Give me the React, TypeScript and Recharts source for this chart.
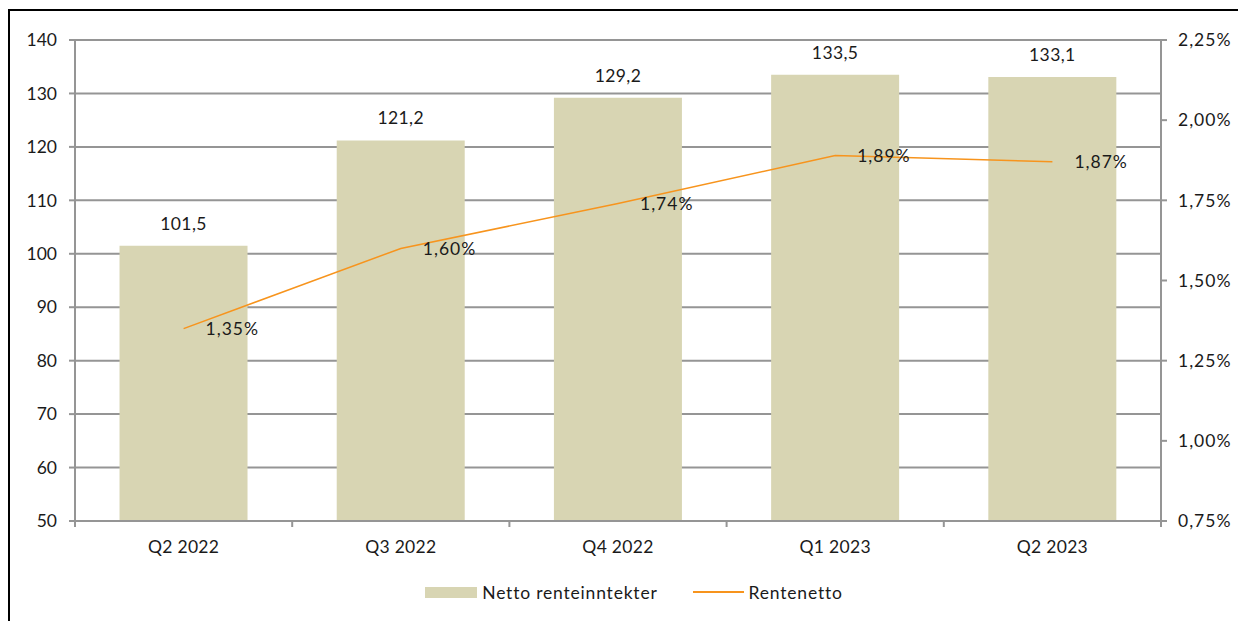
import { ComposedChart, Bar, Line, XAxis, YAxis, CartesianGrid, Legend, LabelList } from 'recharts';

const quarters = ['Q2 2022', 'Q3 2022', 'Q4 2022', 'Q1 2023', 'Q2 2023'];
const nettoRenteinntekter = [101.5, 121.2, 129.2, 133.5, 133.1];
const rentenetto = [1.35, 1.6, 1.74, 1.89, 1.87];
const leftTicks = [50, 60, 70, 80, 90, 100, 110, 120, 130, 140];
const rightTicks = [0.75, 1.0, 1.25, 1.5, 1.75, 2.0, 2.25];

const data = quarters.map((q, i) => ({
  quarter: q,
  netto: nettoRenteinntekter[i],
  rente: rentenetto[i],
}));

const FONT = 'Lato, "Open Sans", sans-serif';
const AXIS = '#959595';
const BAR = '#d8d5b3';
const ORANGE = '#f7941d';
const TEXT = '#1a1a1a';
const FS = 17.5;

const fmtNum = (v: number) => v.toFixed(1).replace('.', ',');
const fmtPct = (v: number) => v.toFixed(2).replace('.', ',') + '%';

const TICK_SIZE = 6;
const TICK_MARGIN = 14;

// category labels centred, tick marks drawn on the category boundaries
const QuarterTick = (props: any) => {
  const { x, y, payload, index, visibleTicksCount, width } = props;
  const half = width / visibleTicksCount / 2;
  const axisY = y - TICK_SIZE - TICK_MARGIN;
  return (
    <g>
      <line x1={x - half} x2={x - half} y1={axisY} y2={axisY + TICK_SIZE} stroke={AXIS} strokeWidth={2} />
      {index === visibleTicksCount - 1 && (
        <line x1={x + half} x2={x + half} y1={axisY} y2={axisY + TICK_SIZE} stroke={AXIS} strokeWidth={2} />
      )}
      <text x={x} y={y} dy="0.71em" textAnchor="middle" fill={TEXT} fontSize={FS} fontFamily={FONT} letterSpacing={0.3}>
        {payload.value}
      </text>
    </g>
  );
};

const LegendContent = () => (
  <div style={{ height: 60, display: 'flex', alignItems: 'center', justifyContent: 'center', paddingLeft: 30, paddingTop: 2, boxSizing: 'border-box', fontFamily: FONT, fontSize: FS, color: TEXT, letterSpacing: 0.8 }}>
    <span style={{ display: 'inline-block', width: 52, height: 11, background: BAR, marginRight: 5 }} />
    <span>Netto renteinntekter</span>
    <span style={{ display: 'inline-block', width: 51, height: 2, background: ORANGE, marginLeft: 35, marginRight: 5 }} />
    <span>Rentenetto</span>
  </div>
);

export default function App() {
  return (
    <div style={{ position: 'absolute', left: 0, top: 0, width: 1238, height: 621, overflow: 'hidden', background: '#fff' }}>
      <div style={{ position: 'absolute', left: 8, top: 9, width: 1400, height: 800, borderLeft: '2px solid #000', borderTop: '2px solid #000' }} />
      <div style={{ position: 'absolute', left: 0, top: 0 }}>
        <ComposedChart width={1238} height={621} data={data} margin={{ top: 40, right: 0, bottom: 0, left: 0 }} barCategoryGap="20.5%">
          <CartesianGrid yAxisId="left" vertical={false} stroke={AXIS} strokeWidth={2} />
          <XAxis
            dataKey="quarter"
            height={40}
            tickLine={false}
            tickSize={TICK_SIZE}
            tickMargin={TICK_MARGIN}
            stroke={AXIS}
            strokeWidth={2}
            tick={<QuarterTick />}
            interval={0}
          />
          <YAxis
            yAxisId="left"
            width={75}
            domain={[50, 140]}
            ticks={leftTicks}
            stroke={AXIS}
            strokeWidth={2}
            tickSize={6}
            tickMargin={12}
            tick={{ fill: TEXT, fontSize: FS, fontFamily: FONT }}
          />
          <YAxis
            yAxisId="right"
            orientation="right"
            width={77}
            domain={[0.75, 2.25]}
            ticks={rightTicks}
            tickFormatter={fmtPct}
            stroke={AXIS}
            strokeWidth={2}
            tickSize={6}
            tickMargin={11}
            tick={{ fill: TEXT, fontSize: FS, fontFamily: FONT, letterSpacing: 1 }}
          />
          <Legend verticalAlign="bottom" height={60} content={<LegendContent />} />
          <Bar yAxisId="left" dataKey="netto" name="Netto renteinntekter" fill={BAR} isAnimationActive={false}>
            <LabelList dataKey="netto" position="top" offset={16} formatter={(v: any) => fmtNum(Number(v))} fill={TEXT} fontSize={FS} fontFamily={FONT} letterSpacing={0.4} />
          </Bar>
          <Line yAxisId="right" dataKey="rente" name="Rentenetto" type="linear" stroke={ORANGE} strokeWidth={1.5} dot={false} activeDot={false} isAnimationActive={false}>
            <LabelList dataKey="rente" position="right" offset={22} formatter={(v: any) => fmtPct(Number(v))} fill={TEXT} fontSize={FS} fontFamily={FONT} letterSpacing={1} />
          </Line>
        </ComposedChart>
      </div>
    </div>
  );
}
